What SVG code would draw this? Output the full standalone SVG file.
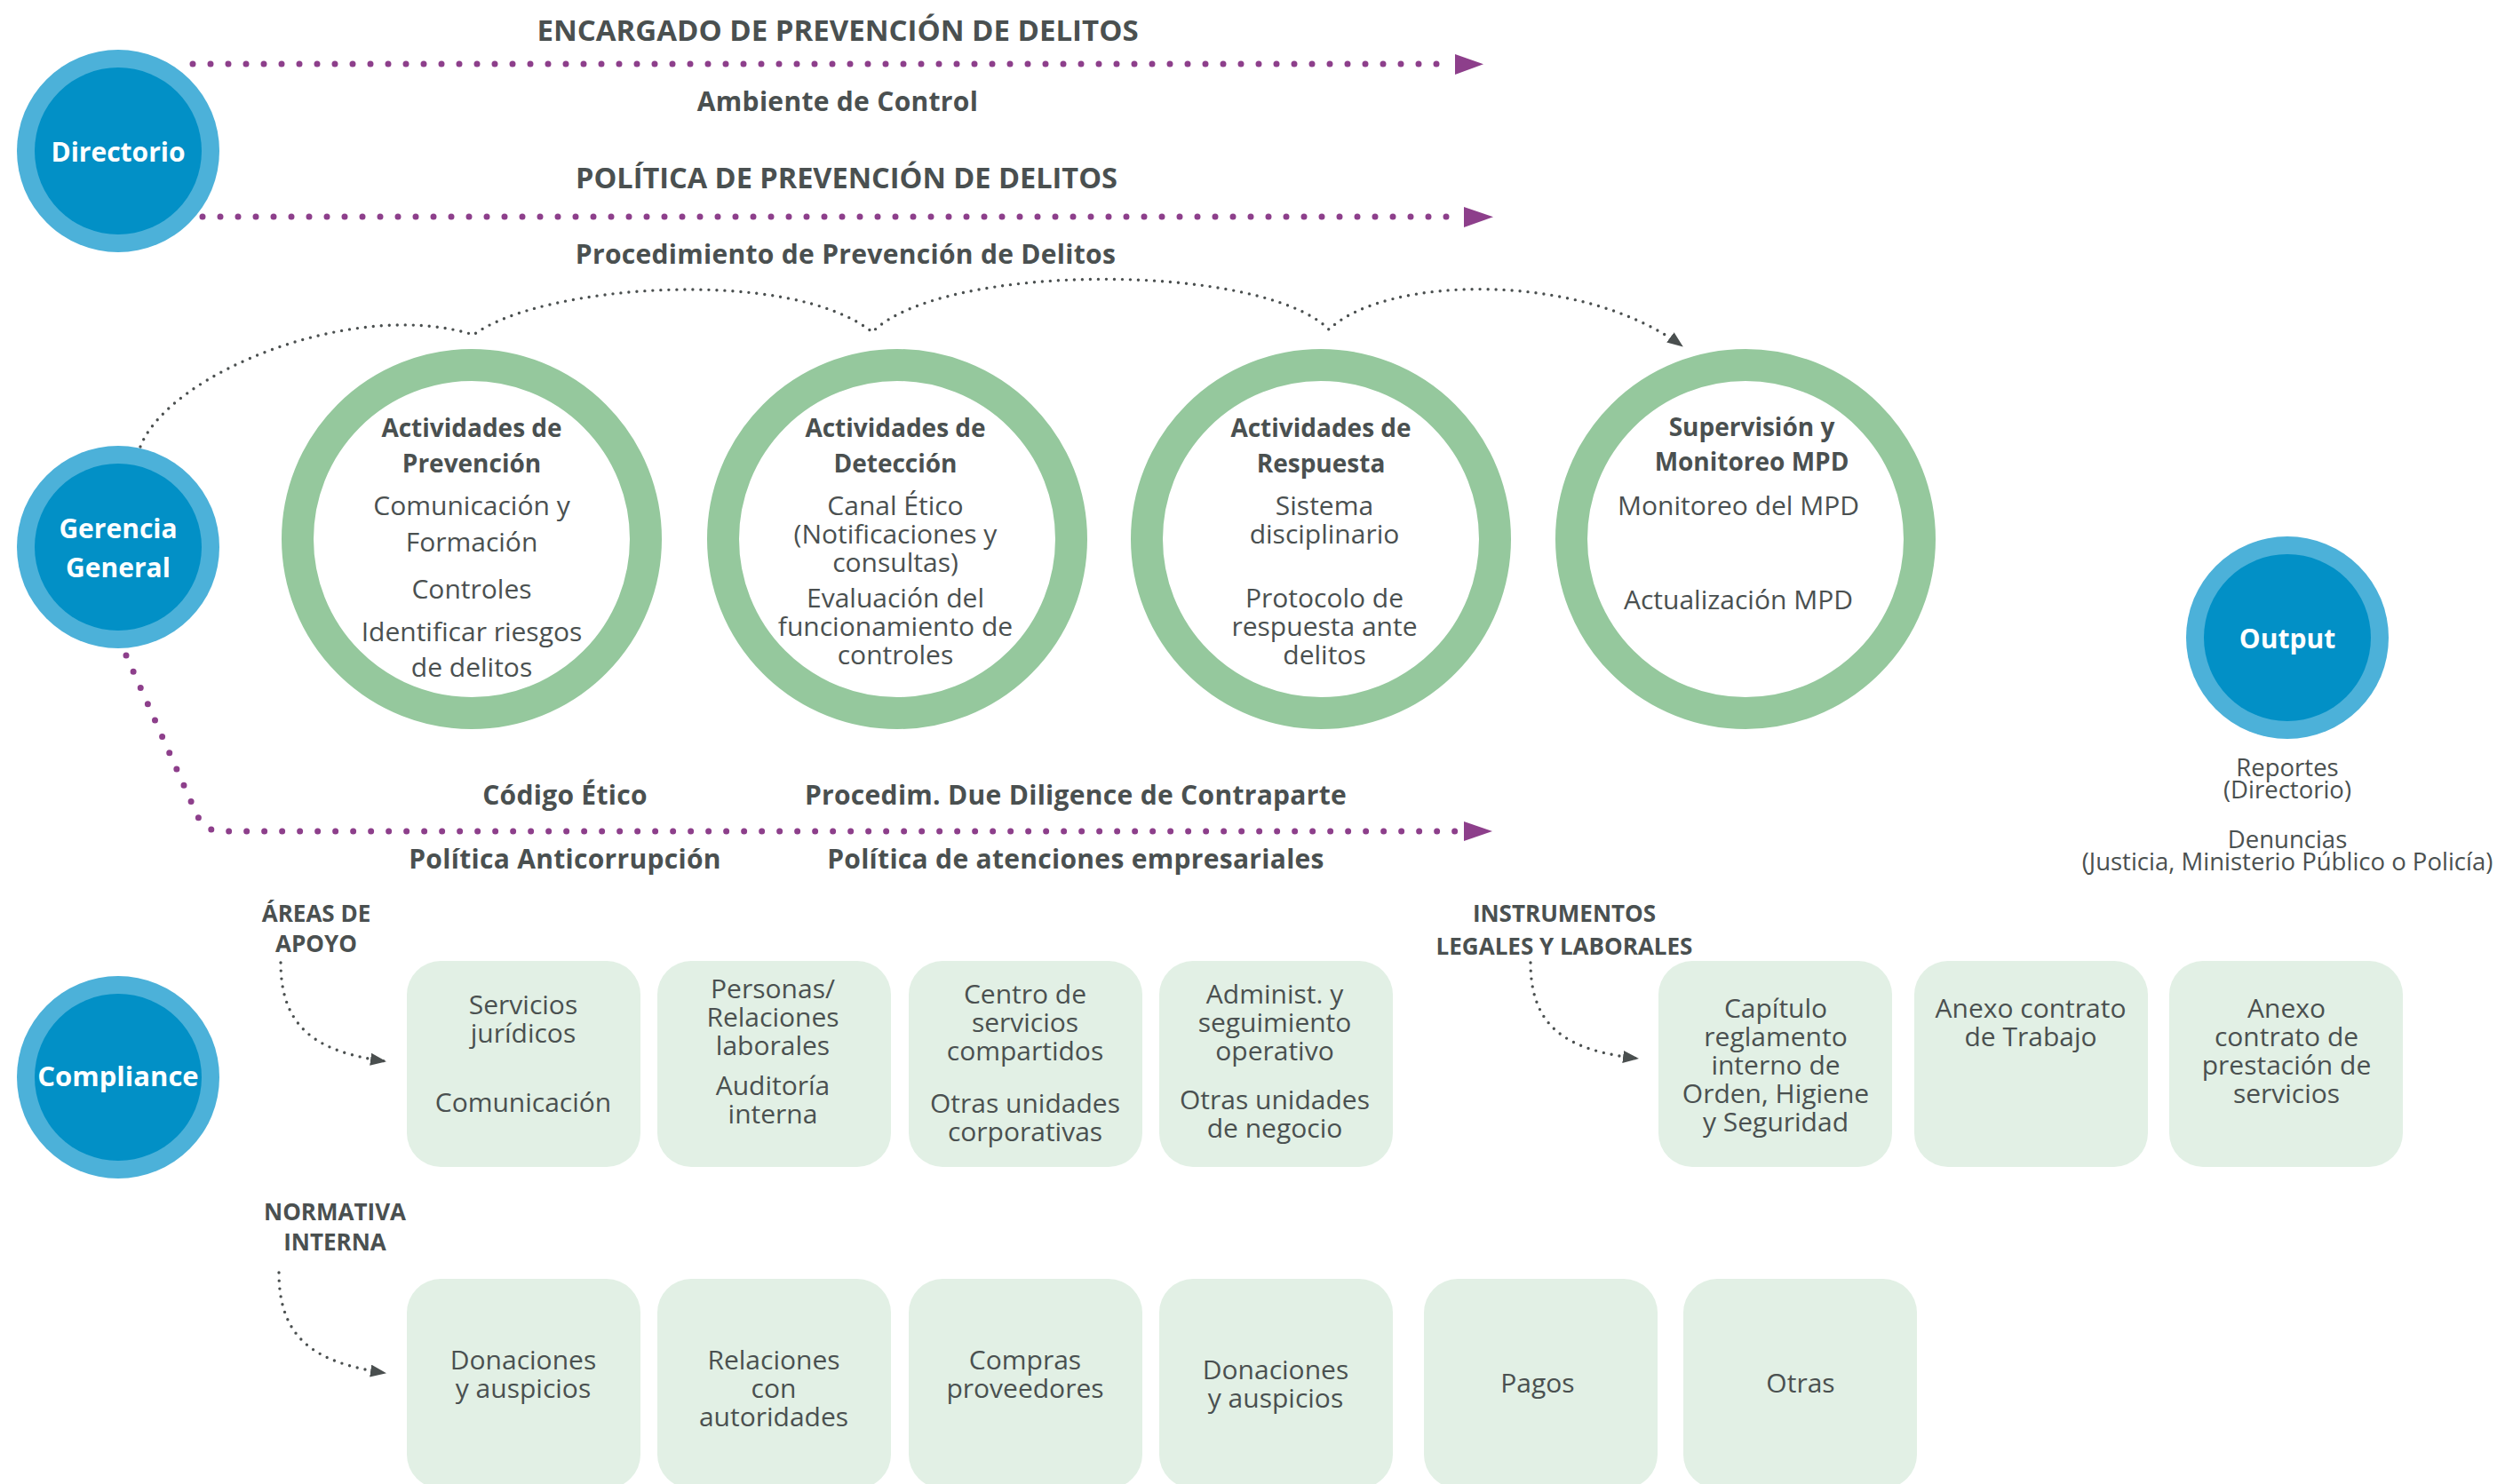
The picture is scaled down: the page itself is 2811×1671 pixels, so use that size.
<svg xmlns="http://www.w3.org/2000/svg" width="2811" height="1671" viewBox="0 0 2811 1671">
<style>
text{font-family:"Open Sans","Noto Sans","Liberation Sans",sans-serif;fill:#4a5050;text-anchor:middle}
.t{font-size:28px;font-weight:700}
.lb{font-size:30px;font-weight:700;letter-spacing:0.3px}
.big{font-size:33px;font-weight:700}
.bd{font-size:30px}
.sm{font-size:26px;font-weight:700}
.out{font-size:27.5px}
.w{fill:#ffffff;font-size:30px;font-weight:700}
.ring{fill:none;stroke:#95c89d;stroke-width:36}
.outer{fill:#4cb1d9}
.inner{fill:#0290c6}
.box{fill:#e2f0e5}
.pd{fill:none;stroke:#8d3f8b;stroke-width:7;stroke-linecap:round;stroke-dasharray:0 20}
.gd{fill:none;stroke:#4a4f4f;stroke-width:3.4;stroke-linecap:round;stroke-dasharray:0 9}
.ph{fill:#8d3f8b}
</style>
<defs>
<marker id="ga" viewBox="0 0 18 14" refX="17" refY="7" markerWidth="18" markerHeight="14" markerUnits="userSpaceOnUse" orient="auto">
<path d="M0,0 L18,7 L0,14 Z" fill="#4a4f4f"/>
</marker>
</defs>
<rect width="2811" height="1671" fill="#ffffff"/>

<g id="connectors">
<path class="pd" d="M217,72 H1628"/>
<polygon class="ph" points="1638,61 1670,72.3 1638,84"/>
<path class="pd" d="M228,244 H1638"/>
<polygon class="ph" points="1648,233 1681,244.3 1648,256"/>
<path class="pd" d="M142,738 L222,918 Q230,936 250,936 H1638"/>
<polygon class="ph" points="1648,925 1680,936 1648,947"/>
<path class="gd" d="M158,503 C190,420 400,335 533,377 C610,320 890,300 982,374 C1060,295 1420,295 1496,371 C1560,310 1780,305 1894,390" marker-end="url(#ga)"/>
<path class="gd" d="M316,1084 C316,1160 360,1185 434,1195" marker-end="url(#ga)"/>
<path class="gd" d="M1723,1084 C1723,1160 1768,1183 1844,1192" marker-end="url(#ga)"/>
<path class="gd" d="M314,1433 C314,1510 358,1535 434,1546" marker-end="url(#ga)"/>
</g>

<g id="labels">
<text class="big" x="943" y="46">ENCARGADO DE PREVENCIÓN DE DELITOS</text>
<text class="lb" x="943" y="125">Ambiente de Control</text>
<text class="big" x="953" y="212" style="font-size:32.5px">POLÍTICA DE PREVENCIÓN DE DELITOS</text>
<text class="lb" x="952" y="297">Procedimiento de Prevención de Delitos</text>
<text class="lb" x="636" y="906">Código Ético</text>
<text class="lb" x="636" y="978">Política Anticorrupción</text>
<text class="lb" x="1211" y="906">Procedim. Due Diligence de Contraparte</text>
<text class="lb" x="1211" y="978">Política de atenciones empresariales</text>
<text class="sm" x="356" y="1038">ÁREAS DE</text>
<text class="sm" x="356" y="1072">APOYO</text>
<text class="sm" x="1761" y="1038">INSTRUMENTOS</text>
<text class="sm" x="1761" y="1075">LEGALES Y LABORALES</text>
<text class="sm" x="377" y="1374">NORMATIVA</text>
<text class="sm" x="377" y="1408">INTERNA</text>
</g>

<g id="directorio">
<circle class="outer" cx="133" cy="170" r="114"/>
<circle class="inner" cx="133" cy="170" r="94"/>
<text class="w" x="133" y="182">Directorio</text>
</g>
<g id="gerencia-general">
<circle class="outer" cx="133" cy="616" r="114"/>
<circle class="inner" cx="133" cy="616" r="94"/>
<text class="w" x="133" y="606">Gerencia</text>
<text class="w" x="133" y="650">General</text>
</g>
<g id="compliance">
<circle class="outer" cx="133" cy="1213" r="114"/>
<circle class="inner" cx="133" cy="1213" r="94"/>
<text class="w" x="133" y="1223" style="font-size:31px">Compliance</text>
</g>
<g id="output">
<circle class="outer" cx="2575" cy="718" r="114"/>
<circle class="inner" cx="2575" cy="718" r="94"/>
<text class="w" x="2575" y="730">Output</text>
<text class="out" x="2575" y="874">Reportes</text>
<text class="out" x="2575" y="899">(Directorio)</text>
<text class="out" x="2575" y="955">Denuncias</text>
<text class="out" x="2575" y="980">(Justicia, Ministerio Público o Policía)</text>
</g>

<g id="prevencion">
<circle class="ring" cx="531" cy="607" r="196"/>
<text class="t" x="531" y="492">Actividades de</text>
<text class="t" x="531" y="532">Prevención</text>
<text class="bd" x="531" y="580">Comunicación y</text>
<text class="bd" x="531" y="621">Formación</text>
<text class="bd" x="531" y="674">Controles</text>
<text class="bd" x="531" y="722">Identificar riesgos</text>
<text class="bd" x="531" y="762">de delitos</text>
</g>
<g id="deteccion">
<circle class="ring" cx="1010" cy="607" r="196"/>
<text class="t" x="1008" y="492">Actividades de</text>
<text class="t" x="1008" y="532">Detección</text>
<text class="bd" x="1008" y="580">Canal Ético</text>
<text class="bd" x="1008" y="612">(Notificaciones y</text>
<text class="bd" x="1008" y="644">consultas)</text>
<text class="bd" x="1008" y="684">Evaluación del</text>
<text class="bd" x="1008" y="716">funcionamiento de</text>
<text class="bd" x="1008" y="748">controles</text>
</g>
<g id="respuesta">
<circle class="ring" cx="1487" cy="607" r="196"/>
<text class="t" x="1487" y="492">Actividades de</text>
<text class="t" x="1487" y="532">Respuesta</text>
<text class="bd" x="1491" y="580">Sistema</text>
<text class="bd" x="1491" y="612">disciplinario</text>
<text class="bd" x="1491" y="684">Protocolo de</text>
<text class="bd" x="1491" y="716">respuesta ante</text>
<text class="bd" x="1491" y="748">delitos</text>
</g>
<g id="supervision">
<circle class="ring" cx="1965" cy="607" r="196"/>
<text class="t" x="1972" y="491">Supervisión y</text>
<text class="t" x="1972" y="530">Monitoreo MPD</text>
<text class="bd" x="1957" y="580">Monitoreo del MPD</text>
<text class="bd" x="1957" y="686">Actualización MPD</text>
</g>

<g id="area-1">
<rect class="box" x="458" y="1082" width="263" height="232" rx="38"/>
<text class="bd" x="589" y="1142">Servicios</text>
<text class="bd" x="589" y="1174">jurídicos</text>
<text class="bd" x="589" y="1252">Comunicación</text>
</g>
<g id="area-2">
<rect class="box" x="740" y="1082" width="263" height="232" rx="38"/>
<text class="bd" x="870" y="1124">Personas/</text>
<text class="bd" x="870" y="1156">Relaciones</text>
<text class="bd" x="870" y="1188">laborales</text>
<text class="bd" x="870" y="1233">Auditoría</text>
<text class="bd" x="870" y="1265">interna</text>
</g>
<g id="area-3">
<rect class="box" x="1023" y="1082" width="263" height="232" rx="38"/>
<text class="bd" x="1154" y="1130">Centro de</text>
<text class="bd" x="1154" y="1162">servicios</text>
<text class="bd" x="1154" y="1194">compartidos</text>
<text class="bd" x="1154" y="1253">Otras unidades</text>
<text class="bd" x="1154" y="1285">corporativas</text>
</g>
<g id="area-4">
<rect class="box" x="1305" y="1082" width="263" height="232" rx="38"/>
<text class="bd" x="1435" y="1130">Administ. y</text>
<text class="bd" x="1435" y="1162">seguimiento</text>
<text class="bd" x="1435" y="1194">operativo</text>
<text class="bd" x="1435" y="1249">Otras unidades</text>
<text class="bd" x="1435" y="1281">de negocio</text>
</g>
<g id="instrumento-1">
<rect class="box" x="1867" y="1082" width="263" height="232" rx="38"/>
<text class="bd" x="1999" y="1146">Capítulo</text>
<text class="bd" x="1999" y="1178">reglamento</text>
<text class="bd" x="1999" y="1210">interno de</text>
<text class="bd" x="1999" y="1242">Orden, Higiene</text>
<text class="bd" x="1999" y="1274">y Seguridad</text>
</g>
<g id="instrumento-2">
<rect class="box" x="2155" y="1082" width="263" height="232" rx="38"/>
<text class="bd" x="2286" y="1146">Anexo contrato</text>
<text class="bd" x="2286" y="1178">de Trabajo</text>
</g>
<g id="instrumento-3">
<rect class="box" x="2442" y="1082" width="263" height="232" rx="38"/>
<text class="bd" x="2574" y="1146">Anexo</text>
<text class="bd" x="2574" y="1178">contrato de</text>
<text class="bd" x="2574" y="1210">prestación de</text>
<text class="bd" x="2574" y="1242">servicios</text>
</g>

<g id="normativa-1">
<rect class="box" x="458" y="1440" width="263" height="236" rx="38"/>
<text class="bd" x="589" y="1542">Donaciones</text>
<text class="bd" x="589" y="1574">y auspicios</text>
</g>
<g id="normativa-2">
<rect class="box" x="740" y="1440" width="263" height="236" rx="38"/>
<text class="bd" x="871" y="1542">Relaciones</text>
<text class="bd" x="871" y="1574">con</text>
<text class="bd" x="871" y="1606">autoridades</text>
</g>
<g id="normativa-3">
<rect class="box" x="1023" y="1440" width="263" height="236" rx="38"/>
<text class="bd" x="1154" y="1542">Compras</text>
<text class="bd" x="1154" y="1574">proveedores</text>
</g>
<g id="normativa-4">
<rect class="box" x="1305" y="1440" width="263" height="236" rx="38"/>
<text class="bd" x="1436" y="1553">Donaciones</text>
<text class="bd" x="1436" y="1585">y auspicios</text>
</g>
<g id="normativa-5">
<rect class="box" x="1603" y="1440" width="263" height="236" rx="38"/>
<text class="bd" x="1731" y="1568">Pagos</text>
</g>
<g id="normativa-6">
<rect class="box" x="1895" y="1440" width="263" height="236" rx="38"/>
<text class="bd" x="2027" y="1568">Otras</text>
</g>
</svg>
